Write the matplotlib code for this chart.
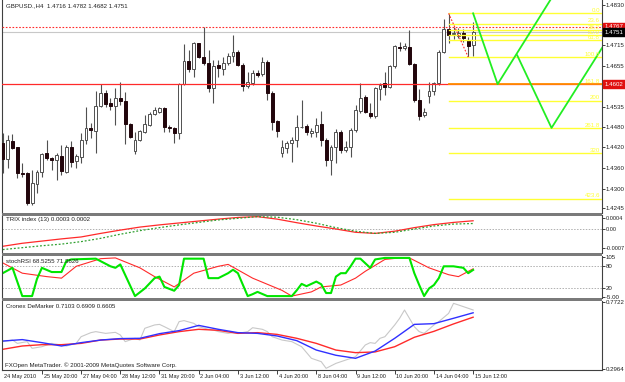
import matplotlib
matplotlib.use('Agg')
import matplotlib.pyplot as plt
from matplotlib.patches import Rectangle
import matplotlib.transforms as mtrans
import numpy as np

plt.rcParams['font.family'] = ['Liberation Sans', 'DejaVu Sans']

# ---------------- data ----------------
symbol_title = "GBPUSD.,H4  1.4716 1.4782 1.4682 1.4751"

opens = [1.4432, 1.4386, 1.4438, 1.4420, 1.4347, 1.4345, 1.4259, 1.4314, 1.4350, 1.4403,
         1.4388, 1.4384, 1.4395, 1.4350, 1.4420, 1.4381, 1.4393, 1.4441, 1.4477, 1.4468,
         1.4539, 1.4576, 1.4547, 1.4539, 1.4563, 1.4554, 1.4486, 1.4410, 1.4441, 1.4465,
         1.4484, 1.4515, 1.4523, 1.4532, 1.4478, 1.4475, 1.4460, 1.4602, 1.4669, 1.4645,
         1.4720, 1.4681, 1.4662, 1.4590, 1.4657, 1.4645, 1.4662, 1.4683, 1.4696, 1.4657,
         1.4598, 1.4605, 1.4633, 1.4631, 1.4667, 1.4576, 1.4496, 1.4403, 1.4419, 1.4434,
         1.4440, 1.4478, 1.4482, 1.4461, 1.4465, 1.4487, 1.4441, 1.4384, 1.4422, 1.4465,
         1.4411, 1.4422, 1.4470, 1.4526, 1.4566, 1.4520, 1.4509, 1.4587, 1.4605, 1.4593,
         1.4653, 1.4710, 1.4706, 1.4710, 1.4660, 1.4555, 1.4513, 1.4568, 1.4581, 1.4605,
         1.4694, 1.4760, 1.4746, 1.4741, 1.4750, 1.4729, 1.4716]
highs = [1.4460, 1.4456, 1.4458, 1.4422, 1.4374, 1.4350, 1.4355, 1.4355, 1.4403, 1.4441,
         1.4393, 1.4403, 1.4427, 1.4427, 1.4439, 1.4401, 1.4460, 1.4535, 1.4489, 1.4582,
         1.4602, 1.4585, 1.4561, 1.4590, 1.4609, 1.4580, 1.4489, 1.4465, 1.4470, 1.4513,
         1.4523, 1.4537, 1.4537, 1.4537, 1.4484, 1.4478, 1.4604, 1.4718, 1.4700, 1.4724,
         1.4722, 1.4767, 1.4700, 1.4672, 1.4672, 1.4681, 1.4691, 1.4744, 1.4701, 1.4662,
         1.4638, 1.4643, 1.4643, 1.4679, 1.4672, 1.4581, 1.4499, 1.4441, 1.4437, 1.4451,
         1.4513, 1.4557, 1.4487, 1.4475, 1.4504, 1.4525, 1.4446, 1.4427, 1.4472, 1.4470,
         1.4437, 1.4475, 1.4542, 1.4605, 1.4571, 1.4547, 1.4595, 1.4605, 1.4638, 1.4657,
         1.4715, 1.4723, 1.4720, 1.4757, 1.4664, 1.4587, 1.4533, 1.4609, 1.4609, 1.4701,
         1.4789, 1.4804, 1.4768, 1.4763, 1.4760, 1.4739, 1.4782]
lows = [1.4345, 1.4362, 1.4414, 1.4331, 1.4336, 1.4254, 1.4254, 1.4288, 1.4336, 1.4384,
        1.4355, 1.4326, 1.4340, 1.4345, 1.4364, 1.4360, 1.4374, 1.4430, 1.4446, 1.4403,
        1.4535, 1.4537, 1.4528, 1.4484, 1.4542, 1.4429, 1.4446, 1.4401, 1.4439, 1.4462,
        1.4482, 1.4512, 1.4520, 1.4465, 1.4465, 1.4432, 1.4443, 1.4600, 1.4638, 1.4624,
        1.4676, 1.4657, 1.4580, 1.4549, 1.4624, 1.4629, 1.4657, 1.4667, 1.4653, 1.4581,
        1.4590, 1.4600, 1.4624, 1.4626, 1.4557, 1.4470, 1.4449, 1.4393, 1.4403, 1.4379,
        1.4422, 1.4475, 1.4456, 1.4451, 1.4451, 1.4424, 1.4365, 1.4341, 1.4374, 1.4403,
        1.4408, 1.4391, 1.4463, 1.4520, 1.4518, 1.4504, 1.4504, 1.4557, 1.4571, 1.4590,
        1.4648, 1.4698, 1.4701, 1.4657, 1.4552, 1.4499, 1.4507, 1.4549, 1.4571, 1.4600,
        1.4691, 1.4720, 1.4731, 1.4734, 1.4724, 1.4681, 1.4682]
closes = [1.4386, 1.4441, 1.4417, 1.4345, 1.4343, 1.4259, 1.4316, 1.4350, 1.4401, 1.4388,
          1.4384, 1.4398, 1.4353, 1.4422, 1.4379, 1.4395, 1.4441, 1.4475, 1.4470, 1.4540,
          1.4576, 1.4545, 1.4539, 1.4561, 1.4554, 1.4486, 1.4451, 1.4441, 1.4467, 1.4486,
          1.4515, 1.4528, 1.4532, 1.4480, 1.4476, 1.4460, 1.4602, 1.4669, 1.4646, 1.4722,
          1.4681, 1.4662, 1.4590, 1.4655, 1.4648, 1.4664, 1.4683, 1.4694, 1.4657, 1.4598,
          1.4609, 1.4635, 1.4629, 1.4667, 1.4576, 1.4494, 1.4467, 1.4422, 1.4432, 1.4440,
          1.4480, 1.4480, 1.4463, 1.4467, 1.4485, 1.4440, 1.4384, 1.4422, 1.4465, 1.4411,
          1.4422, 1.4470, 1.4528, 1.4563, 1.4523, 1.4511, 1.4590, 1.4600, 1.4595, 1.4653,
          1.4712, 1.4706, 1.4712, 1.4660, 1.4557, 1.4509, 1.4523, 1.4583, 1.4605, 1.4696,
          1.4760, 1.4744, 1.4750, 1.4748, 1.4736, 1.4712, 1.4751]

time_label_bars = [0, 8, 16, 24, 32, 40, 48, 56, 64, 72, 80, 88, 96]
time_labels = ['24 May 2010', '25 May 20:00', '27 May 04:00', '28 May 12:00', '31 May 20:00',
               '2 Jun 04:00', '3 Jun 12:00', '4 Jun 20:00', '8 Jun 04:00', '9 Jun 12:00',
               '10 Jun 20:00', '14 Jun 04:00', '15 Jun 12:00']

price_ticks = [1.4830, 1.4715, 1.4655, 1.4535, 1.4480, 1.4420, 1.4360, 1.4300, 1.4245]

hline_dotted_red = 1.4767
bid_price = 1.4751
hline_red = 1.4602

fib_levels = [0.0, 23.6, 38.2, 50.0, 61.8, 100.0, 161.8, 200.0, 261.8, 320.0, 423.6]
fib_labels = ['0.0', '23.6', '38.2', '50.0', '61.8', '100.0', '161.8', '200', '261.8', '320', '423.6']
fib_high = 1.4806
fib_low = 1.4680
fib_high_bar = 91
fib_low_bar = 95

zigzag_a_bars = [96, 101, 114]
zigzag_a_prices = [1.4806, 1.4602, 1.4895]
zigzag_b_bars = [105, 112, 124]
zigzag_b_prices = [1.4685, 1.4476, 1.4744]

trix_bars = list(range(0, 97, 4))
trix_main = [-0.00063, -0.00052, -0.00044, -0.00036, -0.00029, -0.00016, -0.00004, 0.00007,
             0.00015, 0.00022, 0.00029, 0.00036, 0.00042, 0.00045, 0.00036, 0.00023, 0.00011,
             0.0, -0.00012, -0.00016, -0.00008, 0.00005, 0.00016, 0.00024, 0.0003]
trix_signal = [-0.00075, -0.00068, -0.00061, -0.00055, -0.00046, -0.00034, -0.00019, -0.00006,
               0.00005, 0.00015, 0.00024, 0.00033, 0.00039, 0.00045, 0.00043, 0.00034, 0.00021,
               0.00005, -0.00008, -0.00016, -0.00012, 0.0, 0.00011, 0.00018, 0.0002]

stoch_k_bars = [0, 2, 4, 6, 7, 8, 10, 12, 13, 14, 19, 22, 23, 24, 27, 29, 31, 32, 33, 35,
                36, 37, 41, 42, 44, 46, 47, 48, 50, 51, 52, 54, 59, 60, 61, 62, 64, 65, 66, 67,
                68, 69, 70, 71, 72, 73, 75, 76, 78, 83, 84, 85, 86, 87, 88, 89, 90, 92, 94, 95, 96]
stoch_k = [60, 74, 0, 0, 45, 74, 63, 63, 92, 96, 98, 78, 74, 83, 0, 20, 47, 51, 24, 14,
           29, 98, 98, 47, 47, 60, 69, 60, 0, 5, 11, 0, 0, 15, 32, 26, 38, 31, 8, 8,
           51, 60, 60, 78, 98, 98, 74, 96, 100, 100, 60, 29, 0, 20, 29, 47, 78, 78, 74, 60, 68.5]
stoch_d_bars = [0, 4, 9, 12, 15, 20, 23, 28, 31, 35, 39, 44, 46, 51, 57, 59, 63, 65, 69, 72,
                74, 78, 81, 83, 87, 91, 93, 96]
stoch_d = [87, 60, 51, 47, 78, 98, 100, 74, 51, 24, 60, 78, 83, 47, 15, 0, 11, 24, 29, 47,
           65, 96, 100, 100, 74, 56, 51, 71.4]

dem_ma_bars = list(range(0, 97, 4))
dem_blue = [0.496, 0.506, 0.485, 0.462, 0.485, 0.503, 0.513, 0.515, 0.547, 0.568, 0.604, 0.577,
            0.554, 0.549, 0.531, 0.499, 0.434, 0.398, 0.377, 0.427, 0.515, 0.611, 0.616, 0.653, 0.6909]
dem_red = [0.439, 0.462, 0.471, 0.471, 0.480, 0.503, 0.510, 0.510, 0.538, 0.561, 0.577, 0.570,
           0.549, 0.554, 0.542, 0.515, 0.480, 0.434, 0.416, 0.421, 0.457, 0.522, 0.563, 0.614, 0.6605]
dem_raw_bars = [0, 2, 3, 5, 6, 8, 10, 13, 15, 16, 18, 19, 21, 23, 24, 25, 27, 28, 29, 31,
                32, 33, 35, 36, 37, 39, 40, 42, 43, 44, 46, 47, 48, 50, 51, 53, 54, 55, 57, 59,
                61, 63, 65, 66, 68, 70, 72, 74, 75, 76, 77, 78, 80, 81, 82, 83, 84, 85, 86, 88,
                89, 91, 92, 93, 95, 96]
dem_raw = [0.492, 0.503, 0.480, 0.492, 0.446, 0.457, 0.480, 0.462, 0.480, 0.526,
           0.554, 0.561, 0.549, 0.556, 0.538, 0.492, 0.515, 0.503, 0.584, 0.607,
           0.611, 0.595, 0.561, 0.630, 0.637, 0.618, 0.595, 0.577, 0.572, 0.561,
           0.549, 0.554, 0.549, 0.561, 0.588, 0.577, 0.561, 0.526, 0.503, 0.492,
           0.457, 0.377, 0.354, 0.308, 0.342, 0.365, 0.388, 0.469, 0.485, 0.480,
           0.515, 0.526, 0.607, 0.653, 0.710, 0.653, 0.595, 0.561, 0.549, 0.607,
           0.630, 0.687, 0.756, 0.745, 0.722, 0.7103]

# ---------------- layout ----------------
W, H = 625, 382
FS = 4.4
XMIN, XMAX = -0.14, 122.3
DARK = '#404040'
WICK = '#505050'
BEAR = '#22060c'
YEL = '#ffff33'
GRN = '#22ee22'
RED = '#ff2a2a'

fig = plt.figure(figsize=(W / 100, H / 100), dpi=100)
fig.patch.set_facecolor('white')


def ax_at(x0, y0, x1, y1):
    a = fig.add_axes([x0 / W, 1 - y1 / H, (x1 - x0) / W, (y1 - y0) / H])
    a.set_xlim(XMIN, XMAX)
    a.set_facecolor('white')
    for s in ['top', 'bottom']:
        a.spines[s].set_visible(False)
    for s in ['left', 'right']:
        a.spines[s].set_color(DARK)
        a.spines[s].set_linewidth(0.8)
    a.set_xticks([])
    a.yaxis.tick_right()
    a.tick_params(axis='y', length=2, width=0.6, pad=0.8, labelsize=FS, colors='#202020')
    return a


ax = ax_at(2, 0, 602, 213)
ax_trix = ax_at(2, 215, 602, 253)
ax_st = ax_at(2, 256, 602, 298)
ax_dm = ax_at(2, 301, 602, 370)

# separators
for (y0, y1) in [(213, 215.5), (253, 256), (298, 301)]:
    fig.add_artist(Rectangle((2 / W, 1 - y1 / H), 600 / W, (y1 - y0) / H,
                             transform=fig.transFigure, color='#7a7a7a', lw=0))

# ---------------- main price chart ----------------
ax.set_ylim(1.42310, 1.48444)
o = np.array(opens); h = np.array(highs); l = np.array(lows); c = np.array(closes)
xb = np.arange(len(o))
up = c >= o
ax.vlines(xb, l, h, color=WICK, lw=0.8, zorder=2)
bot = np.minimum(o, c)
hgt = np.maximum(np.abs(c - o), 0.00004)
ax.bar(xb[up], hgt[up], bottom=bot[up], width=0.58, facecolor='white', edgecolor=WICK, lw=0.7, zorder=3)
ax.bar(xb[~up], hgt[~up], bottom=bot[~up], width=0.58, facecolor=BEAR, edgecolor=BEAR, lw=0.7, zorder=3)

ax.axhline(hline_dotted_red, color=RED, lw=0.8, ls=(0, (1.5, 1.5)), zorder=4)
ax.axhline(bid_price, color='#c8c8c8', lw=0.8, zorder=1)
ax.axhline(hline_red, color=RED, lw=0.9, zorder=4)

# fibonacci
rng = fib_high - fib_low
for lev, lab in zip(fib_levels, fib_labels):
    p = fib_high - rng * lev / 100.0
    col = '#ff8c00' if abs(p - hline_red) < 0.0002 else YEL
    ax.plot([fib_high_bar, XMAX], [p, p], color=col, lw=1.0 if col == YEL else 1.3, zorder=4)
    ax.text(XMAX - 0.4, p + 0.0001, lab, color=YEL, fontsize=FS, ha='right', va='bottom', zorder=6)
ax.plot([fib_high_bar, fib_low_bar], [fib_high, fib_low], color=RED, lw=0.8,
        ls=(0, (1.5, 1.5)), zorder=5)

# projection zigzags
ax.plot(zigzag_a_bars, zigzag_a_prices, color=GRN, lw=1.3, zorder=5)
ax.plot(zigzag_b_bars, zigzag_b_prices, color=GRN, lw=1.3, zorder=5)

ax.set_yticks(price_ticks)
ax.set_yticklabels(['%.4f' % v for v in price_ticks])
ax.text(0.007, 0.985, symbol_title, transform=ax.transAxes, fontsize=FS, va='top', ha='left',
        color='#202020')

bt = mtrans.blended_transform_factory(ax.transAxes, ax.transData)
for val, col in [(hline_dotted_red, '#e01010'), (bid_price, '#000000'), (hline_red, '#e01010')]:
    ax.text(1.0 + 2.5 / 600, val, '%.4f' % val, transform=bt, fontsize=FS, color='white',
            ha='left', va='center', zorder=10, clip_on=False,
            bbox=dict(boxstyle='square,pad=0.25', fc=col, ec=col))

# ---------------- TRIX ----------------
ax_trix.set_ylim(-0.000874, 0.00051)
ax_trix.axhline(0, color='#b0b0b0', lw=0.7, ls=(0, (1.5, 1.5)))
ax_trix.plot(trix_bars, trix_main, color=RED, lw=0.9)
ax_trix.plot(trix_bars, trix_signal, color='#30a030', lw=0.9, ls=(0, (1.5, 1.5)))
ax_trix.set_yticks([0.0004, 0.0, -0.0007])
ax_trix.set_yticklabels(['0.0004', '0.00', '-0.0007'])
ax_trix.tick_params(axis='y', labelsize=4.1)
ax_trix.text(0.007, 0.95, 'TRIX index (13) 0.0003 0.0002', transform=ax_trix.transAxes,
             fontsize=FS, va='top', ha='left', color='#202020')

# ---------------- Stoch RSI ----------------
ax_st.set_ylim(-5, 105)
for lv in (80, 20):
    ax_st.axhline(lv, color='#b0b0b0', lw=0.7, ls=(0, (1.5, 1.5)))
ax_st.plot(stoch_d_bars, stoch_d, color=RED, lw=0.8)
ax_st.plot(stoch_k_bars, stoch_k, color='#00e600', lw=1.5)
ax_st.set_yticks([103, 80, 20, -3])
ax_st.set_yticklabels(['105', '80', '20', '-5.00'])
ax_st.text(0.007, 0.93, 'stochRSI 68.5255 71.3626', transform=ax_st.transAxes,
           fontsize=FS, va='top', ha='left', color='#202020')

# ---------------- DeMarker ----------------
ax_dm.set_ylim(0.2964, 0.7722)
ax_dm.plot(dem_raw_bars, dem_raw, color='#c8c8c8', lw=0.8)
ax_dm.plot(dem_ma_bars, dem_red, color=RED, lw=1.0)
ax_dm.plot(dem_ma_bars, dem_blue, color='#3030ff', lw=1.0)
ax_dm.set_yticks([0.762, 0.306])
ax_dm.set_yticklabels(['0.7722', '0.2964'])
ax_dm.spines['bottom'].set_visible(True)
ax_dm.spines['bottom'].set_color(DARK)
ax_dm.spines['bottom'].set_linewidth(0.8)
ax_dm.text(0.007, 0.95, 'Cronex DeMarker 0.7103 0.6909 0.6605', transform=ax_dm.transAxes,
           fontsize=FS, va='top', ha='left', color='#202020')
ax_dm.text(0.005, 0.03, 'FXOpen MetaTrader. \u00a9 2001-2009 MetaQuotes Software Corp.',
           transform=ax_dm.transAxes, fontsize=FS, va='bottom', ha='left', color='#202020')

# time axis
ax_dm.set_xticks(time_label_bars[1:])
ax_dm.tick_params(axis='x', length=3, width=0.6, direction='out', colors='#202020',
                  labelbottom=False)
tb = mtrans.blended_transform_factory(ax_dm.transData, ax_dm.transAxes)
for b, lab in zip(time_label_bars, time_labels):
    ax_dm.text(b + 0.35, -0.06, lab, transform=tb, fontsize=4.0, ha='left', va='top',
               color='#202020', clip_on=False)

fig.savefig('out.png', dpi=100, facecolor='white')
